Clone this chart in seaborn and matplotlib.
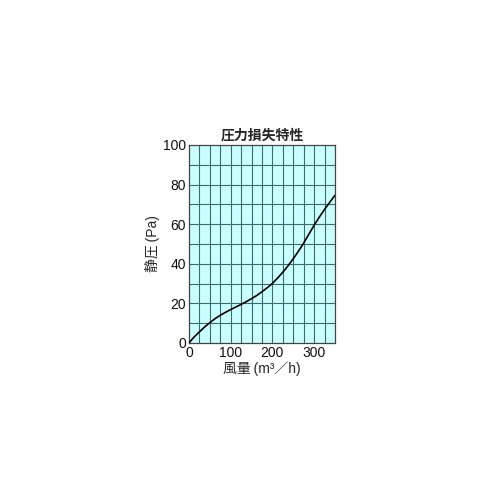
import matplotlib
matplotlib.use("Agg")
import matplotlib.pyplot as plt
import seaborn as sns
import pandas as pd

# values (m3/h -> Pa)
airflow = [0, 5, 12.5, 25, 37.5, 50, 62.5, 75, 87.5, 100, 112.5, 125, 137.5, 150,
           162.5, 175, 187.5, 200, 212.5, 225, 237.5, 250, 262.5, 275, 287.5,
           300, 312.5, 325, 337.5, 350]
pressure = [0, 1.3, 3.1, 5.6, 8.1, 10.3, 12.3, 14.0, 15.5, 16.9, 18.2, 19.5, 20.9, 22.4,
            24.0, 25.9, 27.9, 30.1, 32.8, 35.8, 39.0, 42.6, 46.4, 50.5, 55.0,
            59.5, 63.6, 67.5, 71.1, 74.6]

x_ticks = [0, 100, 200, 300]
y_ticks = [0, 20, 40, 60, 80, 100]

df = pd.DataFrame({"airflow": airflow, "pressure": pressure})

sns.set_style("white")
plt.rcParams["font.family"] = ["Liberation Sans", "Noto Sans CJK JP", "DejaVu Sans"]

fig = plt.figure(figsize=(5, 5), dpi=100)
ax = fig.add_axes([0.378, 0.314, 0.292, 0.396])
ax.set_facecolor("#c9ffff")

# grid every 25 m3/h and every 10 Pa
for gx in range(25, 350, 25):
    ax.axvline(gx, color="#3d6b6b", lw=0.8, zorder=1)
for gy in range(10, 100, 10):
    ax.axhline(gy, color="#3d6b6b", lw=0.8, zorder=1)

sns.lineplot(data=df, x="airflow", y="pressure", ax=ax, color="black", lw=1.2, zorder=3)

ax.set_xlim(0, 350)
ax.set_ylim(0, 100)
ax.set_xticks(x_ticks)
ax.set_yticks(y_ticks)
ax.tick_params(length=0, pad=2, labelsize=10, colors="#111111")
for s in ax.spines.values():
    s.set_color("#444444")
    s.set_linewidth(0.9)

ax.set_title("圧力損失特性", fontsize=10, fontweight="bold", pad=4,
             family=["Noto Sans CJK JP", "DejaVu Sans"])
ax.set_xlabel("風量\u2009(m³／h)", fontsize=10, labelpad=1)
ax.set_ylabel("静圧\u2009(Pa)", fontsize=10, labelpad=2)

fig.savefig("out.png", dpi=100)
